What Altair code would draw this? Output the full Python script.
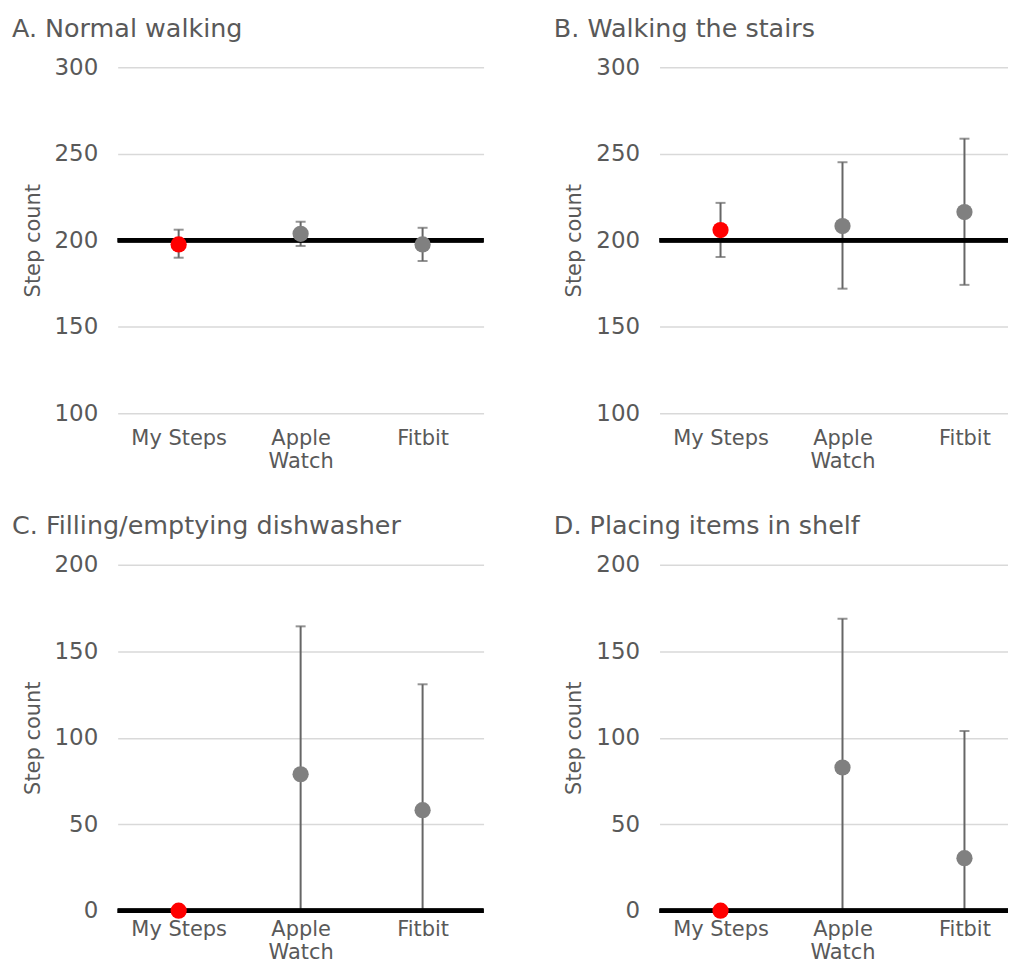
import altair as alt
import pandas as pd

devices = ["My Steps", "Apple Watch", "Fitbit"]
point_colors = ["#ff0000", "#808080", "#808080"]

titles = [
    "A. Normal walking",
    "B. Walking the stairs",
    "C. Filling/emptying dishwasher",
    "D. Placing items in shelf",
]

a_mean = [197.6, 203.7, 197.6]
a_low = [189.9, 196.7, 188.0]
a_high = [206.1, 210.7, 207.2]

b_mean = [205.9, 208.2, 216.3]
b_low = [190.3, 172.0, 174.2]
b_high = [221.6, 245.1, 258.7]

c_mean = [0.0, 78.9, 58.1]
c_low = [0.0, 0.0, 0.0]
c_high = [0.0, 164.4, 130.9]

d_mean = [0.0, 82.8, 30.4]
d_low = [0.0, 0.0, 0.0]
d_high = [0.0, 168.8, 103.9]

ref_values = [200, 200, 0, 0]
y_domains = [[100, 300], [100, 300], [0, 200], [0, 200]]
y_ticks = [[100, 150, 200, 250, 300], [100, 150, 200, 250, 300],
           [0, 50, 100, 150, 200], [0, 50, 100, 150, 200]]

FONT = "DejaVu Sans"
TEXT = "#595959"
ERR = "#666666"


def panel(title, mean, low, high, domain, ticks, ref, line_height, label_pad):
    df = pd.DataFrame({"device": devices, "mean": mean, "low": low, "high": high})
    xscale = alt.Scale(type="point", padding=0.5, domain=devices)
    x = alt.X(
        "device:N",
        scale=xscale,
        sort=devices,
        axis=alt.Axis(
            title=None,
            labelAngle=0,
            labelExpr="datum.label == 'Apple Watch' ? ['Apple', 'Watch'] : datum.label",
            labelLineHeight=line_height,
            labelPadding=label_pad,
        ),
    )
    yscale = alt.Scale(domain=domain, nice=False, zero=False)
    yaxis = alt.Axis(title="Step count", values=ticks, grid=True)

    def ych(field):
        return alt.Y(field, scale=yscale, axis=yaxis, title="Step count")

    base = alt.Chart(df)
    has_err = "datum.high > datum.low"
    err = base.transform_filter(has_err).mark_rule(color=ERR, strokeWidth=2).encode(
        x=x, y=ych("low:Q"), y2="high:Q"
    )
    cap_hi = base.transform_filter(has_err).mark_tick(color=ERR, size=10, thickness=2).encode(
        x=x, y=ych("high:Q")
    )
    cap_lo = base.transform_filter(has_err).mark_tick(color=ERR, size=10, thickness=2).encode(
        x=x, y=ych("low:Q")
    )
    refl = base.mark_rule(color="black", strokeWidth=4.5).encode(y=ych("ref:Q")).transform_calculate(
        ref=str(ref)
    )
    pts = base.mark_circle(size=265, opacity=1).encode(
        x=x,
        y=ych("mean:Q"),
        color=alt.Color("device:N", scale=alt.Scale(domain=devices, range=point_colors), legend=None),
    )
    return alt.layer(err, cap_hi, cap_lo, refl, pts).properties(
        width=367,
        height=347,
        title=alt.TitleParams(
            text=title,
            anchor="start",
            frame="group",
            dx=-106,
            fontSize=25.5,
            font=FONT,
            color=TEXT,
            fontWeight="normal",
            offset=14,
        ),
    )


means = [a_mean, b_mean, c_mean, d_mean]
lows = [a_low, b_low, c_low, d_low]
highs = [a_high, b_high, c_high, d_high]
line_heights = [23, 23, 23, 23]
label_pads = [14, 14, 8, 8]

panels = [
    panel(titles[i], means[i], lows[i], highs[i], y_domains[i], y_ticks[i], ref_values[i],
          line_heights[i], label_pads[i])
    for i in range(4)
]

chart = alt.vconcat(
    alt.hconcat(panels[0], panels[1], spacing=67.5),
    alt.hconcat(panels[2], panels[3], spacing=67.5),
    spacing=43,
).properties(
    padding={"left": 4, "top": 7, "right": -20, "bottom": 2}
).configure_view(stroke=None).configure_axis(
    domain=False,
    ticks=False,
    labelFont=FONT,
    titleFont=FONT,
    labelColor=TEXT,
    titleColor=TEXT,
    titleFontWeight="normal",
    gridColor="#d9d9d9",
    gridWidth=1.5,
).configure_axisY(
    labelFontSize=23,
    labelPadding=20,
    titleFontSize=21,
    titlePadding=11,
).configure_axisX(
    labelFontSize=21,
    grid=False,
)

chart.save("out.html", embed_options={"renderer": "svg", "actions": False})
